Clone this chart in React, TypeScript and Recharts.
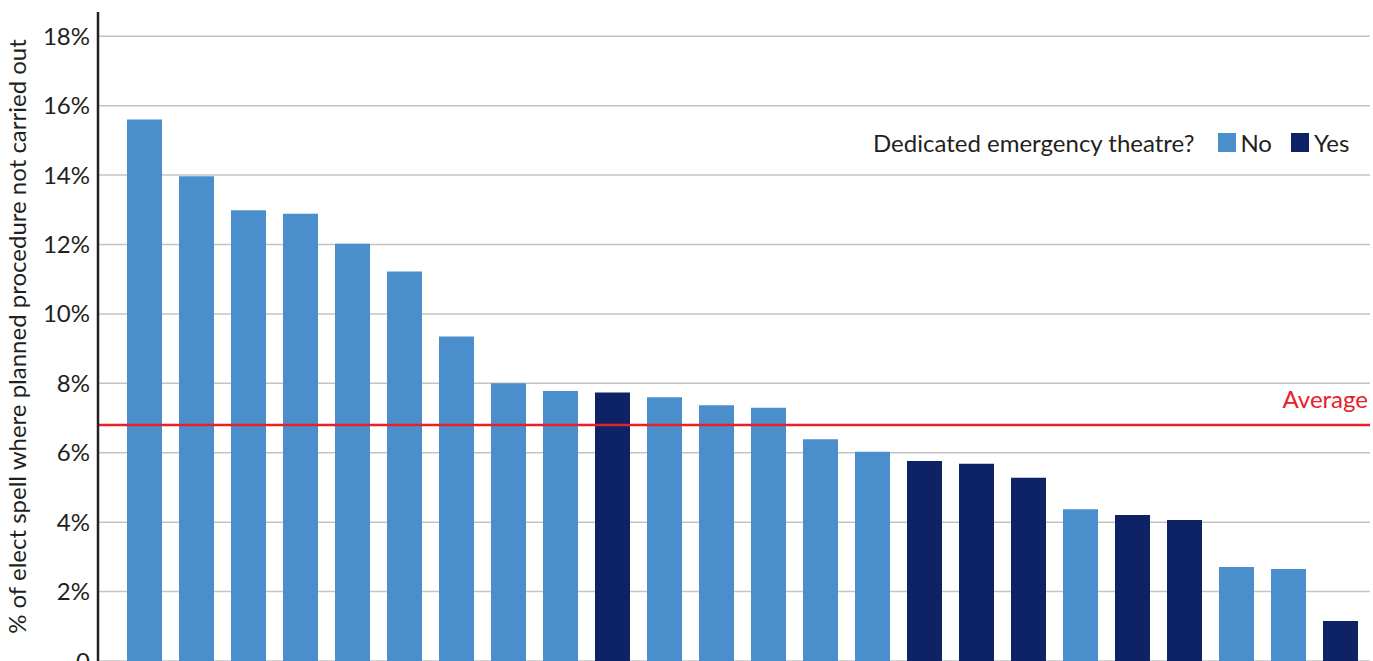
import React from "react";
import { Bar, BarChart, CartesianGrid, Cell, Label, ReferenceLine, XAxis, YAxis } from "recharts";

const hospitals = [
  "H1", "H2", "H3", "H4", "H5", "H6", "H7", "H8", "H9", "H10", "H11", "H12",
  "H13", "H14", "H15", "H16", "H17", "H18", "H19", "H20", "H21", "H22", "H23", "H24",
];
const notCarriedOut = [
  15.6, 13.97, 12.99, 12.89, 12.02, 11.22, 9.35, 8.0, 7.78, 7.74, 7.6, 7.37,
  7.3, 6.39, 6.03, 5.76, 5.68, 5.28, 4.37, 4.21, 4.06, 2.71, 2.65, 1.15,
];
const dedicatedTheatre = [
  "No", "No", "No", "No", "No", "No", "No", "No", "No", "Yes", "No", "No",
  "No", "No", "No", "Yes", "Yes", "Yes", "No", "Yes", "Yes", "No", "No", "Yes",
];
const yTicks = [0, 2, 4, 6, 8, 10, 12, 14, 16, 18];
const average = 6.8;

const COLORS: Record<string, string> = { No: "#4a8fcb", Yes: "#0e2266" };
const FONT = "Lato, 'Open Sans', sans-serif";
const TEXT = "#231f20";

const data = hospitals.map((h, i) => ({ name: h, value: notCarriedOut[i], theatre: dedicatedTheatre[i] }));

function LegendBox() {
  return (
    <div
      style={{
        position: "absolute",
        left: 873,
        top: 128,
        display: "flex",
        alignItems: "center",
        fontFamily: FONT,
        fontSize: 24,
        color: TEXT,
        whiteSpace: "nowrap",
      }}
    >
      <span>Dedicated emergency theatre?</span>
      <span style={{ width: 18, height: 19, background: COLORS.No, marginLeft: 24, marginRight: 4 }} />
      <span>No</span>
      <span style={{ width: 18, height: 19, background: COLORS.Yes, marginLeft: 19, marginRight: 5 }} />
      <span>Yes</span>
    </div>
  );
}

export default function App() {
  return (
    <div style={{ position: "absolute", left: 0, top: 0, width: 1373, height: 700, background: "#fff" }}>
      <BarChart width={1373} height={700} data={data} margin={{ top: 12, right: 3, bottom: 39, left: 0 }}>
        <CartesianGrid vertical={false} horizontalValues={yTicks} stroke="#c4c4c4" strokeWidth={1.5} />
        <XAxis dataKey="name" hide padding={{ left: 20, right: 4 }} />
        <YAxis
          width={98}
          domain={[0, 18.7]}
          ticks={yTicks}
          allowDataOverflow
          tickFormatter={(v: number) => (v === 0 ? "0" : `${v}%`)}
          tickLine={false}
          tickSize={0}
          tickMargin={8}
          axisLine={{ stroke: "#222", strokeWidth: 2.5 }}
          tick={{ fill: TEXT, fontSize: 24, fontFamily: FONT }}
        >
          <Label
            content={({ viewBox }: any) => {
              const cy = viewBox.y + viewBox.height / 2;
              return (
                <text
                  x={26}
                  y={cy}
                  transform={`rotate(-90, 26, ${cy})`}
                  textAnchor="middle"
                  fill={TEXT}
                  fontSize={24}
                  fontFamily={FONT}
                >
                  % of elect spell where planned procedure not carried out
                </text>
              );
            }}
          />
        </YAxis>
        <Bar dataKey="value" barSize={35} isAnimationActive={false}>
          {data.map((d) => (
            <Cell key={d.name} fill={COLORS[d.theatre]} />
          ))}
        </Bar>
        <ReferenceLine
          y={average}
          stroke="#e8202a"
          strokeWidth={2.5}
          label={({ viewBox }: any) => (
            <text
              x={viewBox.x + viewBox.width - 2}
              y={viewBox.y - 17}
              textAnchor="end"
              fill="#e8202a"
              fontSize={24}
              fontFamily={FONT}
            >
              Average
            </text>
          )}
        />
      </BarChart>
      <LegendBox />
    </div>
  );
}
